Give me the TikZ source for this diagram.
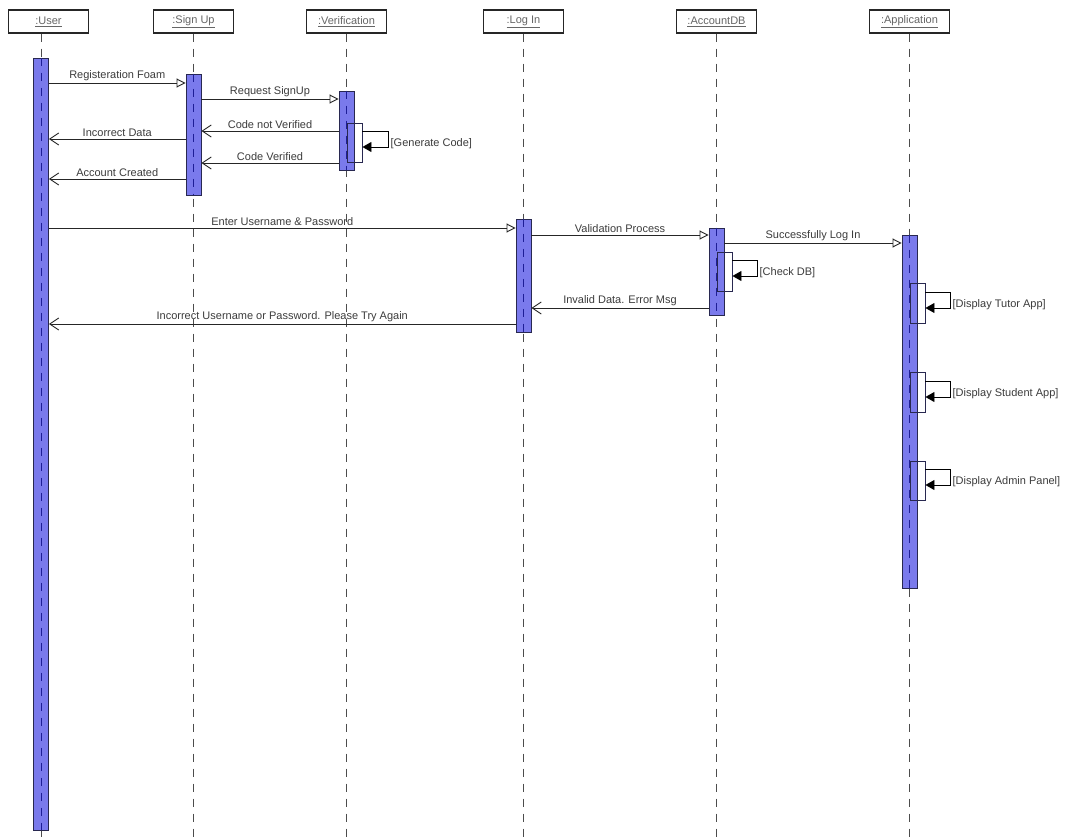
\documentclass[tikz,border=0pt]{standalone}
\usepackage{fontspec}
\setmainfont{Liberation Sans}
\usetikzlibrary{arrows.meta}
\definecolor{barfill}{RGB}{122,122,236}
\definecolor{barline}{RGB}{40,40,80}
\definecolor{barlife}{RGB}{30,30,150}
\definecolor{txt}{RGB}{60,60,60}
\begin{document}
\begin{tikzpicture}[x=1pt,y=-1pt,
  head/.style={draw=black!85, line width=1.1pt, minimum width=80pt, minimum height=23pt, inner sep=0pt, font=\fontsize{11}{13}\selectfont, text=black!60},
  life/.style={draw=black!70, line width=0.9pt, dash pattern=on 8pt off 7pt},
  lifein/.style={draw=barlife, line width=0.9pt, dash pattern=on 8pt off 7pt},
  bar/.style={draw=barline, fill=barfill, line width=0.9pt, minimum width=15pt, inner sep=0pt},
  inner/.style={draw=barline, line width=0.9pt, minimum width=15pt, minimum height=39pt, inner sep=0pt},
  msg/.style={draw=black!85, line width=0.9pt, -{Triangle[open, length=9pt, width=9pt]}},
  ret/.style={draw=black!85, line width=0.9pt, -{Straight Barb[length=9pt, width=12pt]}},
  self/.style={draw=black, line width=0.9pt, -{Triangle[length=9pt, width=10pt]}},
  lbl/.style={font=\fontsize{11}{13}\selectfont, text=txt, inner sep=1.5pt},
  slbl/.style={font=\fontsize{11}{13}\selectfont, text=txt, inner sep=1pt, anchor=west}
]
\useasboundingbox (0,0) rectangle (1065,840);
\fill[white] (0,0) rectangle (1065,840);

% headers
\node[head] (hU) at (48.5,21.5) {\underline{:User}};
\node[head] (hS) at (193.5,21.5) {\underline{:Sign Up}};
\node[head] (hV) at (346.5,21.5) {\underline{:Verification}};
\node[head] (hL) at (523.5,21.5) {\underline{:Log In}};
\node[head] (hA) at (716.5,21.5) {\underline{:AccountDB}};
\node[head] (hP) at (909.5,21.5) {\underline{:Application}};

% lifeline ends
\coordinate (eU) at (41,840);
\coordinate (eS) at (193.5,840);
\coordinate (eV) at (346.5,840);
\coordinate (eL) at (523.5,840);
\coordinate (eA) at (716.5,840);
\coordinate (eP) at (909.5,840);

\draw[life] (eU |- hU.south) -- (eU);
\draw[life] (hS.south) -- (eS);
\draw[life] (hV.south) -- (eV);
\draw[life] (hL.south) -- (eL);
\draw[life] (hA.south) -- (eA);
\draw[life] (hP.south) -- (eP);

% activation bars
\node[bar, minimum height=772pt] (bU) at (41,444) {};
\node[bar, minimum height=121pt] (bS) at (193.5,134.5) {};
\node[bar, minimum height=79pt] (bV) at (346.5,130.5) {};
\node[bar, minimum height=113pt] (bL) at (523.5,275.5) {};
\node[bar, minimum height=87pt] (bA) at (716.5,271.5) {};
\node[bar, minimum height=353pt] (bP) at (909.5,411.5) {};

\foreach \b in {bU,bS,bV,bL,bA,bP}
  \draw[lifein] (\b.north) -- (\b.south);

% nested activations
\node[inner] (iV) at (354.5,142.5) {};
\node[inner] (iA) at (724.5,271.5) {};
\node[inner, minimum height=40pt] (iP1) at (917.5,303) {};
\node[inner, minimum height=40pt] (iP2) at (917.5,392) {};
\node[inner] (iP3) at (917.5,480.5) {};

% messages: sign up
\draw[msg] (bU.east |- 0,83) -- node[lbl, above] {Registeration Foam} (bS.west |- 0,83);
\draw[msg] (bS.east |- 0,99) -- node[lbl, above] {Request SignUp} (bV.west |- 0,99);
\draw[ret] (bV.west |- 0,131) -- node[lbl, above] {Code not Verified} (bS.east |- 0,131);
\draw[ret] (bS.west |- 0,139) -- node[lbl, above] {Incorrect Data} (bU.east |- 0,139);
\draw[ret] (bV.west |- 0,163) -- node[lbl, above] {Code Verified} (bS.east |- 0,163);
\draw[ret] (bS.west |- 0,179) -- node[lbl, above] {Account Created} (bU.east |- 0,179);

\draw[self] (iV.east |- 0,131) -- ++(26,0) -- ++(0,16) coordinate (sV) -- (iV.east |- 0,147);
\node[slbl] at ([xshift=1pt,yshift=3pt]sV) {[Generate Code]};

% messages: log in
\draw[msg] (bU.east |- 0,228) -- node[lbl, above] {Enter Username \& Password} (bL.west |- 0,228);
\draw[msg] (bL.east |- 0,235) -- node[lbl, above] {Validation Process} (bA.west |- 0,235);
\draw[msg] (bA.east |- 0,243) -- node[lbl, above] {Successfully Log In} (bP.west |- 0,243);
\draw[ret] (bA.west |- 0,308) -- node[lbl, above] {Invalid Data. Error Msg} (bL.east |- 0,308);
\draw[ret] (bL.west |- 0,324) -- node[lbl, above] {Incorrect Username or Password. Please Try Again} (bU.east |- 0,324);

\draw[self] (iA.east |- 0,260) -- ++(25,0) -- ++(0,16) coordinate (sA) -- (iA.east |- 0,276);
\node[slbl] at ([xshift=1pt,yshift=3pt]sA) {[Check DB]};

\draw[self] (iP1.east |- 0,292) -- ++(25,0) -- ++(0,16) coordinate (sP1) -- (iP1.east |- 0,308);
\node[slbl] at ([xshift=1pt,yshift=3pt]sP1) {[Display Tutor App]};
\draw[self] (iP2.east |- 0,381) -- ++(25,0) -- ++(0,16) coordinate (sP2) -- (iP2.east |- 0,397);
\node[slbl] at ([xshift=1pt,yshift=3pt]sP2) {[Display Student App]};
\draw[self] (iP3.east |- 0,469) -- ++(25,0) -- ++(0,16) coordinate (sP3) -- (iP3.east |- 0,485);
\node[slbl] at ([xshift=1pt,yshift=3pt]sP3) {[Display Admin Panel]};
\end{tikzpicture}
\end{document}
